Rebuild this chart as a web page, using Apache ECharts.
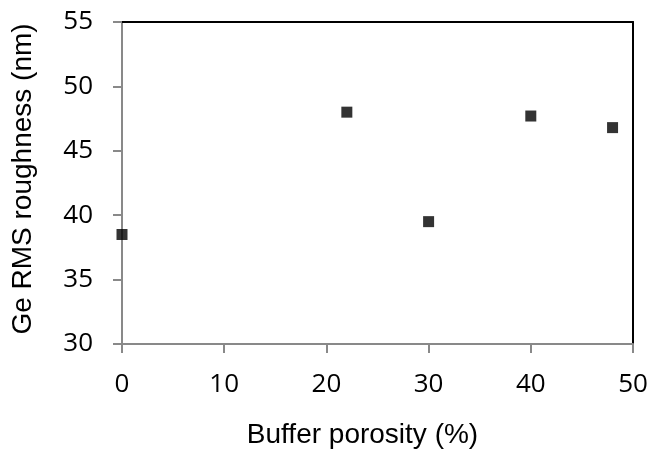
<!DOCTYPE html>
<html>
<head>
<meta charset="utf-8">
<script src="https://cdn.jsdelivr.net/npm/echarts@6/dist/echarts.min.js"></script>
<style>html,body{margin:0;padding:0;background:#fff;}#c{width:652px;height:454px;}</style>
</head>
<body>
<div id="c"></div>
<script>
var porosity = [0, 22, 30, 40, 48];
var roughness = [38.5, 48.0, 39.5, 47.7, 46.8];
var xTitle = 'Buffer porosity (%)';
var yTitle = 'Ge RMS roughness (nm)';

var pts = porosity.map(function (x, i) { return [x, roughness[i]]; });
var chart = echarts.init(document.getElementById('c'));
var tickFont = { fontFamily: 'Open Sans', fontSize: 26, color: '#000' };
chart.setOption({
  animation: false,
  backgroundColor: '#fff',
  grid: { left: 122, right: 19, top: 22, bottom: 107, containLabel: false },
  xAxis: [{
    type: 'value', min: 0, max: 50, interval: 10,
    name: xTitle, nameLocation: 'middle', nameGap: 77,
    nameTextStyle: { fontFamily: 'Liberation Sans', fontSize: 28, color: '#000', padding: [0, 30, 0, 0] },
    axisLine: { show: true, onZero: false, lineStyle: { color: '#898989', width: 2 } },
    axisTick: { show: true, inside: false, length: 9, lineStyle: { color: '#898989', width: 2 } },
    axisLabel: Object.assign({ margin: 28 }, tickFont),
    splitLine: { show: false }
  }, {
    type: 'value', min: 0, max: 50, position: 'top',
    axisLine: { show: true, onZero: false, lineStyle: { color: '#000', width: 2 } },
    axisTick: { show: false }, axisLabel: { show: false }, splitLine: { show: false }
  }],
  yAxis: [{
    type: 'value', min: 30, max: 55, interval: 5,
    name: yTitle, nameLocation: 'middle', nameGap: 85, nameRotate: 90,
    nameTextStyle: { fontFamily: 'Liberation Sans', fontSize: 28, color: '#000', padding: [0, 0, 0, 8] },
    axisLine: { show: true, onZero: false, lineStyle: { color: '#898989', width: 2 } },
    axisTick: { show: true, inside: false, length: 9, lineStyle: { color: '#898989', width: 2 } },
    axisLabel: Object.assign({ margin: 29 }, tickFont),
    splitLine: { show: false }
  }, {
    type: 'value', min: 30, max: 55, position: 'right',
    axisLine: { show: true, onZero: false, lineStyle: { color: '#000', width: 2 } },
    axisTick: { show: false }, axisLabel: { show: false }, splitLine: { show: false }
  }],
  series: [{
    type: 'scatter',
    data: pts,
    symbol: 'rect',
    symbolSize: 11,
    itemStyle: { color: '#000' }
  }]
});
</script>
</body>
</html>
